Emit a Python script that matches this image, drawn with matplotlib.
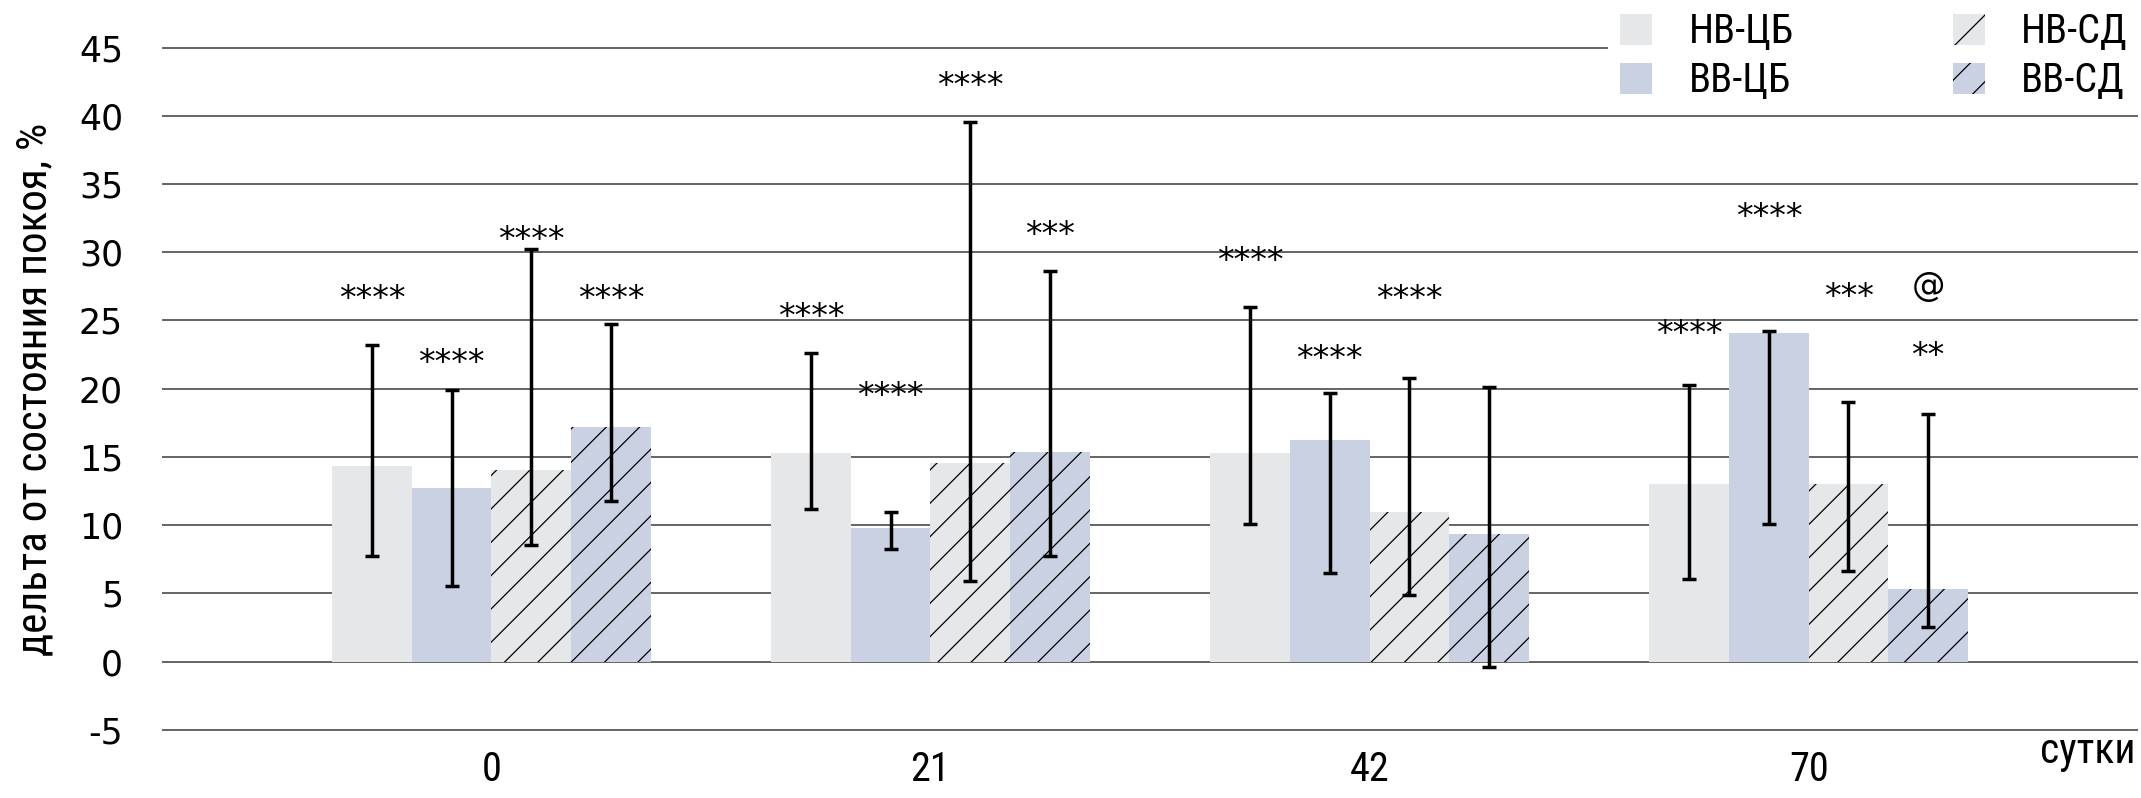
import numpy as np
import matplotlib
matplotlib.use("Agg")
import matplotlib.pyplot as plt
from matplotlib import font_manager
from matplotlib.transforms import offset_copy

# Days of observation (x categories) and the four groups
days = ["0", "21", "42", "70"]
series = ["НВ-ЦБ", "ВВ-ЦБ", "НВ-СД", "ВВ-СД"]

# bar heights, % change from rest
nv_cb = [14.35, 15.32, 15.29, 13.03]
vv_cb = [12.7, 9.79, 16.27, 24.1]
nv_sd = [14.06, 14.54, 11.0, 13.03]
vv_sd = [17.2, 15.38, 9.34, 5.3]

# error bar ends (upper / lower)
nv_cb_hi = [23.17, 22.63, 26.02, 20.27]
vv_cb_hi = [19.9, 10.93, 19.68, 24.24]
nv_sd_hi = [30.2, 39.56, 20.78, 19.0]
vv_sd_hi = [24.75, 28.66, 20.12, 18.15]
nv_cb_lo = [7.77, 11.17, 10.05, 6.07]
vv_cb_lo = [5.53, 8.27, 6.51, 10.06]
nv_sd_lo = [8.52, 5.91, 4.9, 6.62]
vv_sd_lo = [11.8, 7.76, -0.37, 2.56]

# significance marks: (day index, group index, label, y of the mark)
marks = [
    (0, 0, "****", 27.3), (0, 1, "****", 22.6), (0, 2, "****", 31.6), (0, 3, "****", 27.3),
    (1, 0, "****", 26.0), (1, 1, "****", 20.2), (1, 2, "****", 42.9), (1, 3, "***", 32.0),
    (2, 0, "****", 30.05), (2, 1, "****", 22.9), (2, 2, "****", 27.3),
    (3, 0, "****", 24.7), (3, 1, "****", 33.3), (3, 2, "***", 27.4),
    (3, 3, "@", 27.5), (3, 3, "**", 23.1),
]

means = [nv_cb, vv_cb, nv_sd, vv_sd]
highs = [nv_cb_hi, vv_cb_hi, nv_sd_hi, vv_sd_hi]
lows = [nv_cb_lo, vv_cb_lo, nv_sd_lo, vv_sd_lo]
colors = ["#E6E7E9", "#C9D1E2", "#E6E7E9", "#C9D1E2"]
hatches = [None, None, "/", "/"]


def pick_font(names):
    for n in names:
        try:
            font_manager.findfont(n, fallback_to_default=False)
            return n
        except Exception:
            pass
    return "DejaVu Sans"


narrow = pick_font(["Liberation Sans Narrow", "Roboto Condensed", "Open Sans Condensed", "Noto Sans"])

plt.rcParams["hatch.linewidth"] = 0.9
plt.rcParams["axes.unicode_minus"] = False
plt.rcParams["font.family"] = [narrow, "DejaVu Sans"]

fig = plt.figure(figsize=(21.41, 7.98), dpi=100)
ax = fig.add_axes([162 / 2141, 1 - 730.7 / 798, 1976 / 2141, 684 / 798])

x = np.arange(len(days))
w = 0.1814
for i in range(4):
    xs = x + (i - 1.5) * w
    m = np.array(means[i])
    ax.bar(xs, m, width=w, color=colors[i], hatch=hatches[i],
           edgecolor="black", linewidth=0, label=series[i], zorder=2)
    ax.errorbar(xs, m, yerr=[m - np.array(lows[i]), np.array(highs[i]) - m],
                fmt="none", ecolor="black", elinewidth=2.5, capsize=4.8,
                capthick=2.5, zorder=3)

star_tr = offset_copy(ax.transData, fig=fig, y=-7.4, units="points")
for d, s, txt, y in marks:
    xp = x[d] + (s - 1.5) * w
    tr = ax.transData if txt == "@" else star_tr
    ax.text(xp, y, txt, ha="center", va="center", fontsize=24,
            family="DejaVu Sans", transform=tr, zorder=4)

ax.set_xlim(-0.75, 3.75)
ax.set_ylim(-5.06, 45.06)
ax.set_yticks(range(-5, 50, 5))
ax.set_xticks(x, days)
ax.grid(axis="y", color="#3a3a3a", linewidth=1.1)
ax.set_axisbelow(True)
for sp in ax.spines.values():
    sp.set_visible(False)
ax.tick_params(axis="x", length=0, pad=14, labelsize=29)
ax.tick_params(axis="y", length=0, pad=28, labelsize=25)
for lab in ax.get_yticklabels():
    lab.set_family("DejaVu Sans")

fig.text(35 / 2141, 0.5125, "дельта от состояния покоя, %", rotation=90,
         ha="center", va="center", fontsize=31)
fig.text(2136 / 2141, 1 - 763 / 798, "сутки", ha="right", va="baseline", fontsize=30)

ax.legend(ncol=2, loc="upper left", bbox_to_anchor=(1588 / 2141, 1.025),
          bbox_transform=fig.transFigure, frameon=True, facecolor="white",
          edgecolor="none", framealpha=1, fancybox=False, borderpad=0.3,
          handlelength=0.8, handleheight=0.8, handletextpad=0.9,
          columnspacing=3.95, labelspacing=0.25, fontsize=29)

fig.savefig("out.png", dpi=100)
